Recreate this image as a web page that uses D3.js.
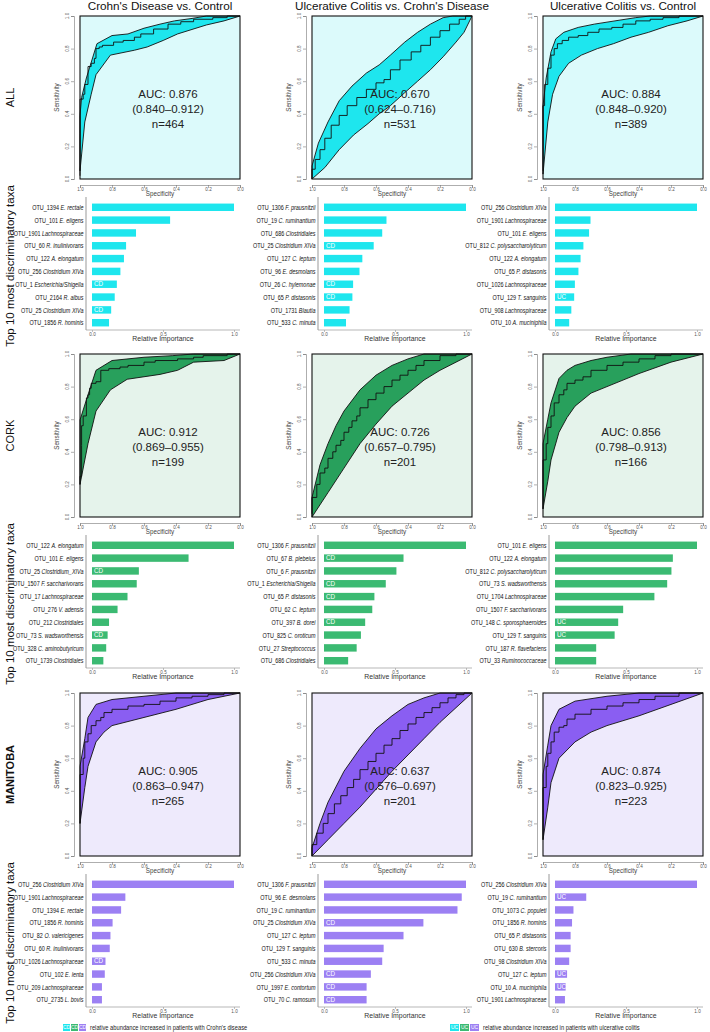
<!DOCTYPE html>
<html><head><meta charset="utf-8">
<script src="https://cdn.jsdelivr.net/npm/d3@7"></script>
<style>
body{margin:0;background:#fff}
svg text{font-family:"Liberation Sans",Arial,sans-serif}
</style></head>
<body><svg id="chart" width="710" height="1032"></svg>
<script>
// ---------- labels ----------
const colTitles = ["Crohn's Disease vs. Control","Ulcerative Colitis vs. Crohn's Disease","Ulcerative Colitis vs. Control"];
const rowNames = ["ALL","CORK","MANITOBA"];
const taxaAxisTitle = "Top 10 most discriminatory taxa";
const legendCD = "relative abundance increased in patients with Crohn's disease";
const legendUC = "relative abundance increased in patients with ulcerative colitis";
const rocTicks = [0,0.2,0.4,0.6,0.8,1.0];
const impTicks = [0,0.5,1.0];

// ---------- AUC annotations ----------
const aucAll = [0.876,0.670,0.884], ciLoAll = [0.840,0.624,0.848], ciHiAll = [0.912,0.716,0.920], nAll = [464,531,389];
const aucCork = [0.912,0.726,0.856], ciLoCork = [0.869,0.657,0.798], ciHiCork = [0.955,0.795,0.913], nCork = [199,201,166];
const aucMan = [0.905,0.637,0.874], ciLoMan = [0.863,0.576,0.823], ciHiMan = [0.947,0.697,0.925], nMan = [265,201,223];

// ---------- ROC curves: [specificity, sensitivity] ----------
const rocAllCdMid = [[1,0.02],[1,0.28],[0.98,0.49],[0.97,0.52],[0.95,0.58],[0.93,0.69],[0.91,0.71],[0.90,0.74],[0.88,0.80],[0.86,0.81],[0.79,0.82],[0.73,0.84],[0.66,0.85],[0.62,0.87],[0.54,0.89],[0.45,0.92],[0.37,0.95],[0.29,0.965],[0.17,0.98],[0.08,0.99],[0,1]];
const rocAllCdLo = [[1,0.05],[0.97,0.35],[0.93,0.52],[0.90,0.64],[0.81,0.76],[0.66,0.79],[0.58,0.81],[0.48,0.85],[0.39,0.89],[0.21,0.945],[0.1,0.97],[0,1]];
const rocAllCdHi = [[1,0.39],[0.99,0.5],[0.96,0.62],[0.894,0.83],[0.80,0.88],[0.70,0.89],[0.60,0.925],[0.50,0.95],[0.41,0.97],[0.30,0.985],[0.21,1.0],[0,1]];

const rocAllUcCdMid = [[1,0],[0.98,0.06],[0.95,0.12],[0.92,0.18],[0.88,0.25],[0.83,0.33],[0.78,0.39],[0.72,0.45],[0.66,0.5],[0.6,0.55],[0.55,0.59],[0.51,0.61],[0.45,0.67],[0.38,0.73],[0.32,0.78],[0.26,0.82],[0.2,0.87],[0.14,0.91],[0.08,0.95],[0.04,0.98],[0,1]];
const rocAllUcCdLo = [[1,0],[0.92,0.07],[0.83,0.18],[0.74,0.27],[0.65,0.34],[0.58,0.4],[0.51,0.45],[0.42,0.53],[0.34,0.6],[0.26,0.67],[0.18,0.75],[0.1,0.84],[0.05,0.9],[0,1]];
const rocAllUcCdHi = [[1,0.08],[0.96,0.22],[0.9,0.35],[0.83,0.48],[0.75,0.57],[0.66,0.65],[0.58,0.7],[0.51,0.76],[0.42,0.84],[0.34,0.9],[0.26,0.95],[0.18,0.99],[0.12,1],[0,1]];

const rocAllUcMid = [[1,0.05],[1,0.3],[0.99,0.45],[0.97,0.58],[0.95,0.68],[0.93,0.76],[0.91,0.8],[0.88,0.83],[0.84,0.85],[0.78,0.87],[0.72,0.88],[0.65,0.9],[0.57,0.92],[0.5,0.93],[0.42,0.95],[0.33,0.97],[0.25,0.98],[0.15,0.99],[0.05,1],[0,1]];
const rocAllUcLo = [[1,0.03],[0.97,0.35],[0.94,0.52],[0.9,0.63],[0.84,0.71],[0.76,0.76],[0.66,0.8],[0.56,0.83],[0.45,0.87],[0.34,0.9],[0.22,0.94],[0.1,0.97],[0,1]];
const rocAllUcHi = [[1,0.45],[0.98,0.62],[0.95,0.78],[0.92,0.86],[0.87,0.9],[0.78,0.93],[0.68,0.95],[0.55,0.97],[0.42,0.99],[0.33,1],[0,1]];

const rocCorkCdMid = [[1,0.2],[0.99,0.25],[0.99,0.44],[0.98,0.56],[0.96,0.62],[0.95,0.73],[0.94,0.75],[0.93,0.79],[0.9,0.82],[0.87,0.83],[0.82,0.9],[0.75,0.91],[0.7,0.92],[0.6,0.93],[0.53,0.95],[0.39,0.96],[0.29,0.97],[0.23,0.98],[0.08,0.99],[0,1]];
const rocCorkCdLo = [[1,0.2],[0.95,0.45],[0.9,0.65],[0.81,0.78],[0.705,0.845],[0.5,0.875],[0.39,0.9],[0.29,0.95],[0.1,0.96],[0,1]];
const rocCorkCdHi = [[1,0.595],[0.95,0.75],[0.9,0.9],[0.8,0.96],[0.6,0.98],[0.42,0.99],[0.29,1],[0,1]];

const rocCorkUcCdMid = [[1,0.02],[0.97,0.12],[0.95,0.2],[0.92,0.27],[0.9,0.3],[0.87,0.36],[0.85,0.4],[0.82,0.44],[0.8,0.47],[0.77,0.52],[0.75,0.55],[0.72,0.59],[0.7,0.62],[0.65,0.67],[0.6,0.72],[0.55,0.76],[0.5,0.8],[0.45,0.84],[0.4,0.87],[0.35,0.9],[0.3,0.93],[0.2,0.96],[0.1,0.99],[0,1]];
const rocCorkUcCdLo = [[1,0],[0.9,0.15],[0.8,0.3],[0.7,0.45],[0.6,0.57],[0.5,0.68],[0.4,0.76],[0.3,0.84],[0.2,0.9],[0.1,0.95],[0,1]];
const rocCorkUcCdHi = [[1,0.12],[0.95,0.32],[0.9,0.45],[0.85,0.56],[0.8,0.65],[0.7,0.78],[0.6,0.87],[0.5,0.93],[0.4,0.97],[0.3,1],[0,1]];

const rocCorkUcMid = [[1,0.05],[1,0.2],[0.98,0.35],[0.97,0.45],[0.95,0.55],[0.93,0.62],[0.9,0.7],[0.87,0.75],[0.85,0.78],[0.8,0.82],[0.75,0.84],[0.7,0.86],[0.6,0.9],[0.5,0.93],[0.4,0.95],[0.3,0.97],[0.2,0.99],[0.1,1],[0,1]];
const rocCorkUcLo = [[1,0.05],[0.97,0.22],[0.95,0.35],[0.9,0.52],[0.85,0.61],[0.8,0.68],[0.7,0.76],[0.6,0.8],[0.5,0.84],[0.4,0.88],[0.2,0.95],[0,1]];
const rocCorkUcHi = [[1,0.45],[0.97,0.6],[0.95,0.7],[0.9,0.85],[0.85,0.9],[0.8,0.93],[0.7,0.96],[0.6,0.98],[0.45,1],[0,1]];

const rocManCdMid = [[1,0.2],[1,0.35],[0.98,0.5],[0.97,0.6],[0.95,0.7],[0.93,0.75],[0.9,0.8],[0.87,0.83],[0.85,0.85],[0.8,0.88],[0.7,0.9],[0.6,0.92],[0.5,0.93],[0.4,0.95],[0.3,0.97],[0.2,0.98],[0.1,0.99],[0,1]];
const rocManCdLo = [[1,0.2],[0.97,0.42],[0.95,0.55],[0.9,0.7],[0.85,0.76],[0.8,0.8],[0.6,0.85],[0.4,0.9],[0.2,0.96],[0,1]];
const rocManCdHi = [[1,0.55],[0.97,0.72],[0.95,0.85],[0.9,0.93],[0.8,0.96],[0.6,0.98],[0.4,1],[0,1]];

const rocManUcCdMid = [[1,0],[0.97,0.07],[0.93,0.14],[0.9,0.2],[0.86,0.26],[0.82,0.32],[0.78,0.37],[0.74,0.42],[0.7,0.47],[0.65,0.53],[0.6,0.58],[0.55,0.63],[0.5,0.68],[0.45,0.72],[0.4,0.77],[0.35,0.81],[0.3,0.85],[0.25,0.88],[0.2,0.91],[0.15,0.94],[0.1,0.97],[0.05,0.99],[0,1]];
const rocManUcCdLo = [[1,0],[0.9,0.1],[0.8,0.2],[0.7,0.3],[0.6,0.41],[0.5,0.52],[0.4,0.62],[0.3,0.72],[0.2,0.82],[0.1,0.91],[0,1]];
const rocManUcCdHi = [[1,0.05],[0.95,0.2],[0.9,0.33],[0.8,0.52],[0.7,0.66],[0.6,0.78],[0.5,0.86],[0.4,0.93],[0.3,0.97],[0.2,1],[0,1]];

const rocManUcMid = [[1,0.1],[1,0.25],[0.98,0.42],[0.97,0.55],[0.95,0.63],[0.93,0.7],[0.9,0.76],[0.87,0.79],[0.85,0.8],[0.8,0.84],[0.7,0.87],[0.6,0.9],[0.5,0.92],[0.4,0.94],[0.3,0.96],[0.15,0.98],[0,1]];
const rocManUcLo = [[1,0.1],[0.97,0.3],[0.95,0.45],[0.9,0.6],[0.8,0.7],[0.7,0.76],[0.6,0.8],[0.4,0.86],[0.2,0.93],[0,1]];
const rocManUcHi = [[1,0.5],[0.97,0.68],[0.95,0.8],[0.9,0.9],[0.8,0.95],[0.6,0.98],[0.4,1],[0,1]];

// ---------- Top-10 taxa (label, relative importance, marker) ----------
const taxaAllCd = ["OTU_1394 E. rectale","OTU_101 E. eligens","OTU_1901 Lachnospiraceae","OTU_60 R. inulinivorans","OTU_122 A. elongatum","OTU_256 Clostridium XIVa","OTU_1 Escherichia/Shigella","OTU_2164 R. albus","OTU_25 Clostridium XIVa","OTU_1856 R. hominis"];
const impAllCd = [1.0,0.55,0.31,0.24,0.225,0.20,0.175,0.16,0.135,0.12];
const markAllCd = ["","","","","","","CD","","CD",""];

const taxaAllUcCd = ["OTU_1306 F. prausnitzii","OTU_19 C. ruminantium","OTU_686 Clostridiales","OTU_25 Clostridium XIVa","OTU_127 C. leptum","OTU_96 E. desmolans","OTU_26 C. hylemonae","OTU_65 P. distasonis","OTU_1731 Blautia","OTU_533 C. minuta"];
const impAllUcCd = [1.0,0.44,0.41,0.35,0.27,0.25,0.205,0.20,0.18,0.155];
const markAllUcCd = ["","","","CD","","","CD","CD","",""];

const taxaAllUc = ["OTU_256 Clostridium XIVa","OTU_1901 Lachnospiraceae","OTU_101 E. eligens","OTU_812 C. polysaccharolyticum","OTU_122 A. elongatum","OTU_65 P. distasonis","OTU_1026 Lachnospiraceae","OTU_129 T. sanguinis","OTU_908 Lachnospiraceae","OTU_10 A. muciniphila"];
const impAllUc = [1.0,0.25,0.24,0.20,0.18,0.165,0.14,0.135,0.115,0.10];
const markAllUc = ["","","","","","","","UC","",""];

const taxaCorkCd = ["OTU_122 A. elongatum","OTU_101 E. eligens","OTU_25 Clostridium_XIVa","OTU_1507 F. saccharivorans","OTU_17 Lachnospiraceae","OTU_276 V. adensis","OTU_212 Clostridiales","OTU_73 S. wadsworthensis","OTU_328 C. aminobutyricum","OTU_1739 Clostridiales"];
const impCorkCd = [1.0,0.68,0.33,0.315,0.25,0.18,0.12,0.11,0.10,0.08];
const markCorkCd = ["","","CD","","","","","CD","",""];

const taxaCorkUcCd = ["OTU_1306 F. prausnitzii","OTU_67 B. plebeius","OTU_6 F. prausnitzii","OTU_1 Escherichia/Shigella","OTU_65 P. distasonis","OTU_62 C. leptum","OTU_397 B. dorei","OTU_825 C. oroticum","OTU_27 Streptococcus","OTU_686 Clostridiales"];
const impCorkUcCd = [1.0,0.56,0.51,0.435,0.355,0.34,0.29,0.26,0.23,0.17];
const markCorkUcCd = ["","CD","","CD","CD","","CD","","",""];

const taxaCorkUc = ["OTU_101 E. eligens","OTU_122 A. elongatum","OTU_812 C. polysaccharolyticum","OTU_73 S. wadsworthensis","OTU_1704 Lachnospiraceae","OTU_1507 F. saccharivorans","OTU_148 C. sporosphaeroides","OTU_129 T. sanguinis","OTU_187 R. flavefaciens","OTU_33 Ruminococcaceae"];
const impCorkUc = [1.0,0.83,0.82,0.79,0.70,0.48,0.445,0.42,0.29,0.29];
const markCorkUc = ["","","","","","","UC","UC","",""];

const taxaManCd = ["OTU_256 Clostridium XIVa","OTU_1901 Lachnospiraceae","OTU_1394 E. rectale","OTU_1856 R. hominis","OTU_82 O. valericigenes","OTU_60 R. inulinivorans","OTU_1026 Lachnospiraceae","OTU_102 E. lenta","OTU_209 Lachnospiraceae","OTU_2735 L. bovis"];
const impManCd = [1.0,0.235,0.205,0.145,0.13,0.125,0.095,0.09,0.07,0.07];
const markManCd = ["","","","","","","CD","","",""];

const taxaManUcCd = ["OTU_1306 F. prausnitzii","OTU_96 E. desmolans","OTU_19 C. ruminantium","OTU_25 Clostridium XIVa","OTU_127 C. leptum","OTU_129 T. sanguinis","OTU_533 C. minuta","OTU_256 Clostridium XIVa","OTU_1997 E. contortum","OTU_70 C. ramosum"];
const impManUcCd = [1.0,0.97,0.94,0.70,0.56,0.42,0.41,0.33,0.30,0.30];
const markManUcCd = ["","","","CD","","","","CD","CD","CD"];

const taxaManUc = ["OTU_256 Clostridium XIVa","OTU_19 C. ruminantium","OTU_1073 C. populeti","OTU_1856 R. hominis","OTU_65 P. distasonis","OTU_630 B. stercoris","OTU_98 Clostridium XIVa","OTU_127 C. leptum","OTU_10 A. muciniphila","OTU_1901 Lachnospiraceae"];
const impManUc = [1.0,0.22,0.13,0.12,0.11,0.11,0.10,0.085,0.075,0.07];
const markManUc = ["","UC","","","","","","UC","UC",""];

// ---------- assemble ----------
const rowAuc = [[aucAll,ciLoAll,ciHiAll,nAll],[aucCork,ciLoCork,ciHiCork,nCork],[aucMan,ciLoMan,ciHiMan,nMan]];
const rowRoc = [
  [[rocAllCdMid,rocAllCdLo,rocAllCdHi],[rocAllUcCdMid,rocAllUcCdLo,rocAllUcCdHi],[rocAllUcMid,rocAllUcLo,rocAllUcHi]],
  [[rocCorkCdMid,rocCorkCdLo,rocCorkCdHi],[rocCorkUcCdMid,rocCorkUcCdLo,rocCorkUcCdHi],[rocCorkUcMid,rocCorkUcLo,rocCorkUcHi]],
  [[rocManCdMid,rocManCdLo,rocManCdHi],[rocManUcCdMid,rocManUcCdLo,rocManUcCdHi],[rocManUcMid,rocManUcLo,rocManUcHi]]
];
const rowTaxa = [
  [[taxaAllCd,impAllCd,markAllCd],[taxaAllUcCd,impAllUcCd,markAllUcCd],[taxaAllUc,impAllUc,markAllUc]],
  [[taxaCorkCd,impCorkCd,markCorkCd],[taxaCorkUcCd,impCorkUcCd,markCorkUcCd],[taxaCorkUc,impCorkUc,markCorkUc]],
  [[taxaManCd,impManCd,markManCd],[taxaManUcCd,impManUcCd,markManUcCd],[taxaManUc,impManUc,markManUc]]
];

const rowStyle = [
  {bg:"#dcfafb", band:"#1ee6ee", bar:"#1ee6ee"},
  {bg:"#e5f3eb", band:"#28a05c", bar:"#3bba72"},
  {bg:"#eeeafc", band:"#8a5ef2", bar:"#9c80f3"}
];
const LEFT = [80, 312, 543];
const ROWTOP = [0, 338, 677];
const BOXW = 160, BOXH = 163, BOXT = 16;
const AXC = "#777";
const SQUEEZE = 0.7;

const svg = d3.select("#chart");

// column titles
svg.selectAll("text.coltitle").data(colTitles).join("text")
  .attr("class","coltitle")
  .attr("x",(d,i)=>LEFT[i]+BOXW/2).attr("y",9.5)
  .attr("text-anchor","middle").attr("font-size",11.7).attr("fill","#111").text(d=>d);

rowNames.forEach((rn, r) => {
  const R = ROWTOP[r];
  const st = rowStyle[r];
  // row labels
  svg.append("text").attr("transform",`translate(14,${R+BOXT+BOXH/2}) rotate(-90)`)
    .attr("text-anchor","middle").attr("font-size",11).attr("font-weight", r===2?"bold":"normal")
    .attr("fill","#111").text(rn);
  svg.append("text").attr("transform",`translate(14,${R+266}) rotate(-90)`)
    .attr("text-anchor","middle").attr("font-size",11.5).attr("fill","#111").text(taxaAxisTitle);

  for (let c = 0; c < 3; c++) {
    const L = LEFT[c], T = R + BOXT;
    const g = svg.append("g");
    const x = d3.scaleLinear().domain([1,0]).range([L, L+BOXW]);
    const y = d3.scaleLinear().domain([0,1]).range([T+BOXH, T]);
    const [mid, lo, hi] = rowRoc[r][c];
    g.append("rect").attr("x",L).attr("y",T).attr("width",BOXW).attr("height",BOXH).attr("fill",st.bg);
    const poly = hi.concat(lo.slice().reverse());
    g.append("path").attr("d", d3.line().x(d=>x(d[0])).y(d=>y(d[1])).curve(d3.curveLinearClosed)(poly))
      .attr("fill",st.band).attr("stroke","#111").attr("stroke-width",0.9).attr("stroke-linejoin","round");
    g.append("path").attr("d", d3.line().x(d=>x(d[0])).y(d=>y(d[1])).curve(d3.curveStepBefore)(mid))
      .attr("fill","none").attr("stroke","#111").attr("stroke-width",0.9);
    g.append("rect").attr("x",L).attr("y",T).attr("width",BOXW).attr("height",BOXH)
      .attr("fill","none").attr("stroke","#111").attr("stroke-width",1.1);
    // left axis
    const ax = g.append("g").attr("transform",`translate(${L-6},0)`)
      .call(d3.axisLeft(y).tickValues(rocTicks).tickSize(3).tickFormat(""));
    ax.selectAll("path,line").attr("stroke",AXC).attr("stroke-width",0.6);
    g.selectAll("text.yt").data(rocTicks).join("text").attr("class","yt")
      .attr("transform",d=>`translate(${L-11.5},${y(d)}) rotate(-90)`)
      .attr("text-anchor","middle").attr("font-size",4.6).attr("fill","#555").text(d3.format(".1f"));
    g.append("text").attr("transform",`translate(${L-21},${T+BOXH/2}) rotate(-90)`)
      .attr("text-anchor","middle").attr("font-size",6.3).attr("fill","#444").text("Sensitivity");
    // bottom axis
    const bx = g.append("g").attr("transform",`translate(0,${T+BOXH+6})`)
      .call(d3.axisBottom(x).tickValues(rocTicks).tickSize(3).tickFormat(d3.format(".1f")));
    bx.selectAll("path,line").attr("stroke",AXC).attr("stroke-width",0.6);
    bx.selectAll("text").attr("font-size",4.6).attr("fill","#555").attr("dy","0.55em").attr("y",3.5);
    g.append("text").attr("x",L+BOXW/2).attr("y",T+BOXH+17).attr("text-anchor","middle")
      .attr("font-size",6.3).attr("fill","#444").text("Specificity");
    // AUC text
    const [aucA, loA, hiA, nA] = rowAuc[r];
    const tx = L + 88;
    g.append("text").attr("x",tx).attr("y",R+98).attr("text-anchor","middle").attr("font-size",11.5).attr("fill","#222")
      .text("AUC: " + d3.format(".3f")(aucA[c]));
    g.append("text").attr("x",tx).attr("y",R+113).attr("text-anchor","middle").attr("font-size",11.5).attr("fill","#222")
      .text("(" + d3.format(".3f")(loA[c]) + "\u2013" + d3.format(".3f")(hiA[c]) + ")");
    g.append("text").attr("x",tx).attr("y",R+128).attr("text-anchor","middle").attr("font-size",11.5).attr("fill","#222")
      .text("n=" + nA[c]);

    // ---------- bar chart ----------
    const [taxa, imp, mark] = rowTaxa[r][c];
    const bxs = d3.scaleLinear().domain([0,1]).range([L+12, L+154]);
    const bys = d3.scaleBand().domain(d3.range(taxa.length)).range([R+201, R+329]).paddingInner(0.42).paddingOuter(0.2);
    const bg = svg.append("g");
    bg.append("line").attr("x1",L+6).attr("x2",L+6).attr("y1",R+197).attr("y2",R+330)
      .attr("stroke","#aaa").attr("stroke-width",1.2);
    const xa = bg.append("g").attr("transform",`translate(0,${R+330})`)
      .call(d3.axisBottom(bxs).tickValues(impTicks).tickSize(2).tickSizeOuter(0).tickFormat(d3.format(".1f")));
    xa.select("path").attr("d",`M${L+6},0H${L+160}`).attr("stroke","#999").attr("stroke-width",0.7);
    xa.selectAll("line").attr("stroke","#999").attr("stroke-width",0.6);
    xa.selectAll("text").attr("font-size",4.6).attr("fill","#555").attr("y",3).attr("dy","0.6em");
    bg.append("text").attr("x",(L+12+L+154)/2).attr("y",R+341).attr("text-anchor","middle")
      .attr("font-size",6.9).attr("fill","#333").text("Relative Importance");
    bg.selectAll("rect.bar").data(taxa).join("rect").attr("class","bar")
      .attr("x",bxs(0)).attr("y",(d,i)=>bys(i)).attr("height",bys.bandwidth())
      .attr("width",(d,i)=>bxs(imp[i])-bxs(0)).attr("fill",st.bar);
    bg.selectAll("text.mk").data(taxa).join("text").attr("class","mk")
      .attr("x",bxs(0)+2).attr("y",(d,i)=>bys(i)+bys.bandwidth()/2+2.2)
      .attr("font-size",6.3).attr("fill","#fff").text((d,i)=>mark[i]);
    const lab = bg.selectAll("text.lab").data(taxa).join("text").attr("class","lab")
      .attr("transform",(d,i)=>`translate(${L+3.5},${bys(i)+bys.bandwidth()/2+2.7}) scale(${SQUEEZE},1)`)
      .attr("text-anchor","end").attr("font-size",7.8).attr("fill","#111");
    lab.append("tspan").text(d=>d.slice(0, d.indexOf(" ")+1));
    lab.append("tspan").attr("font-style","italic").text(d=>d.slice(d.indexOf(" ")+1));
  }
});

// ---------- legend ----------
const legY = 1024;
const cdX = [63, 71, 79], ucX = [450, 460, 470];
[["CD",cdX,legendCD,7],["UC",ucX,legendUC,9]].forEach(([lbl, xs, txt, w]) => {
  xs.forEach((xx,i) => {
    svg.append("rect").attr("x",xx).attr("y",legY).attr("width",w).attr("height",7).attr("fill",rowStyle[i].bar);
    svg.append("text").attr("x",xx+w/2).attr("y",legY+5.4).attr("text-anchor","middle").attr("font-size",5)
      .attr("fill","#fff").text(lbl);
  });
  svg.append("text").attr("transform",`translate(${xs[2]+w+4},${legY+5.6}) scale(0.8,1)`)
    .attr("font-size",7.2).attr("fill","#222").text(txt);
});
</script>
</body></html>
